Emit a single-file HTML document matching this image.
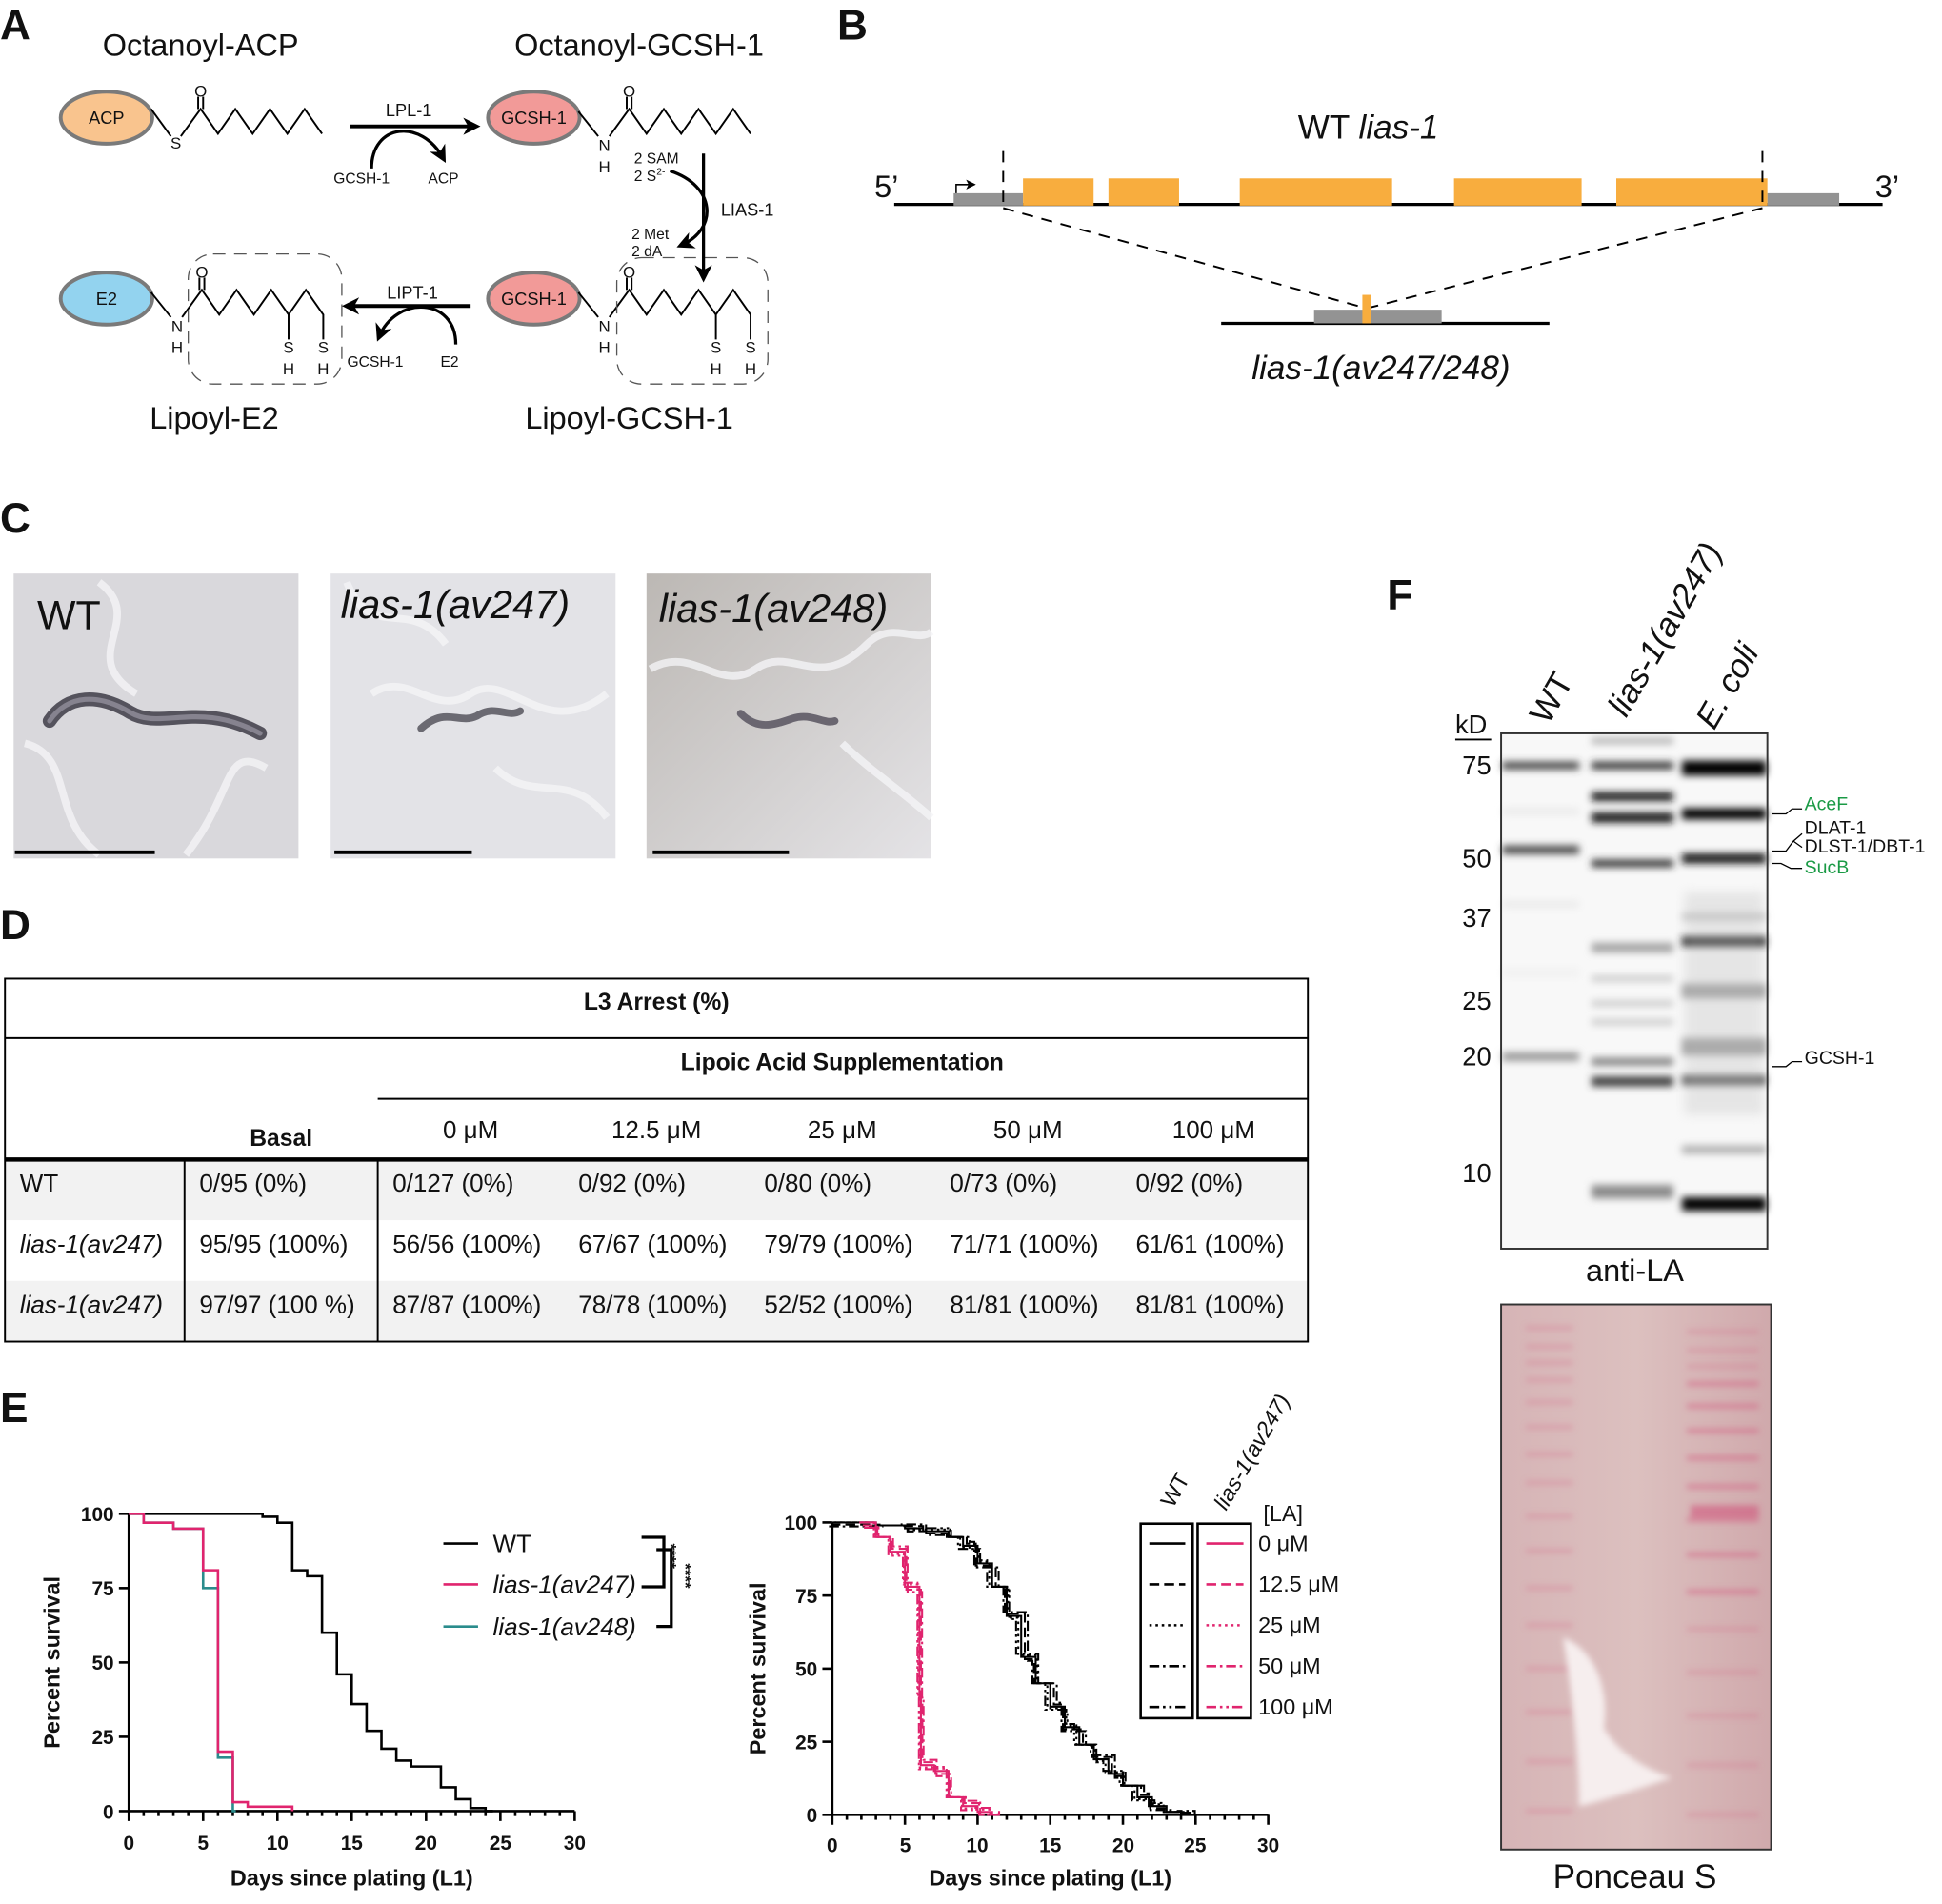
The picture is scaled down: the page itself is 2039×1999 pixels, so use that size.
<!DOCTYPE html>
<html><head><meta charset="utf-8"><style>
html,body{margin:0;padding:0;background:#fff}
svg{display:block}
text{font-family:"Liberation Sans",Arial,sans-serif;fill:#111}
.b{font-weight:bold}
.i{font-style:italic}
</style></head><body>
<svg id="s" width="2039" height="1999" viewBox="0 0 1568 1537" preserveAspectRatio="none" xmlns="http://www.w3.org/2000/svg">
<defs>
<filter id="bl" x="-20%" y="-300%" width="140%" height="700%"><feGaussianBlur stdDeviation="3"/></filter>
<filter id="bl2"><feGaussianBlur stdDeviation="4"/></filter>
<filter id="bl3" x="-20%" y="-20%" width="140%" height="140%"><feGaussianBlur stdDeviation="2.5"/></filter>
<marker id="ah" markerWidth="8" markerHeight="8" refX="6" refY="4" orient="auto" markerUnits="userSpaceOnUse"><path d="M0,0 L8,4 L0,8 L2,4z" fill="#000"/></marker>
<marker id="ah2" markerWidth="14" markerHeight="14" refX="10" refY="7" orient="auto" markerUnits="userSpaceOnUse"><path d="M0,0 L14,7 L0,14 L4,7z" fill="#000"/></marker>
<linearGradient id="pg" x1="0" y1="0" x2="1" y2="0"><stop offset="0" stop-color="#d6b4b6"/><stop offset="0.5" stop-color="#dcc0bf"/><stop offset="1" stop-color="#d0a9ac"/></linearGradient>
<linearGradient id="c3" x1="0" y1="0" x2="1" y2="1"><stop offset="0" stop-color="#bcb8b4"/><stop offset="1" stop-color="#e4e3e6"/></linearGradient>
</defs>

<!-- Panel A -->
<text x="0" y="32" font-size="34" class="b">A</text>
<text x="162" y="45" font-size="25" text-anchor="middle">Octanoyl-ACP</text>
<text x="516" y="45" font-size="25" text-anchor="middle">Octanoyl-GCSH-1</text>
<text x="173" y="346" font-size="25" text-anchor="middle">Lipoyl-E2</text>
<text x="508" y="346" font-size="25" text-anchor="middle">Lipoyl-GCSH-1</text>
<g stroke="#7a7a7a" stroke-width="3">
<ellipse cx="86" cy="95" rx="37" ry="21" fill="#f9c48e"/>
<ellipse cx="431" cy="95" rx="37" ry="21" fill="#f29a98"/>
<ellipse cx="86" cy="241" rx="37" ry="21" fill="#93d3ef"/>
<ellipse cx="431" cy="241" rx="37" ry="21" fill="#f29a98"/>
</g>
<g font-size="14" text-anchor="middle">
<text x="86" y="100">ACP</text><text x="431" y="100">GCSH-1</text>
<text x="86" y="246">E2</text><text x="431" y="246">GCSH-1</text>
</g>
<g fill="none" stroke="#000" stroke-width="1.5">
<polyline points="122,88 138,110"/>
<polyline points="146,110 162,88 176,108 190,88 204,108 218,88 232,108 246,88 260,108"/>
<path d="M160,88 V78 M164,88 V78"/>
<polyline points="467,90 483,110"/>
<polyline points="492,110 508,88 522,108 536,88 550,108 564,88 578,108 592,88 606,108"/>
<path d="M506,88 V78 M510,88 V78"/>
<polyline points="467,236 483,256"/>
<polyline points="492,256 508,234 522,254 536,234 550,254 564,234 578,254 592,234 606,254 606,274"/>
<path d="M506,234 V224 M510,234 V224 M578,254 V274"/>
<polyline points="122,236 138,256"/>
<polyline points="147,256 163,234 177,254 191,234 205,254 219,234 233,254 247,234 261,254 261,274"/>
<path d="M161,234 V224 M165,234 V224 M233,254 V274"/>
<rect x="498" y="208" width="122" height="102" rx="20" stroke-dasharray="10,7" stroke="#555" stroke-width="1"/>
<rect x="152" y="205" width="124" height="105" rx="20" stroke-dasharray="10,7" stroke="#555" stroke-width="1"/>
</g>
<g font-size="13" text-anchor="middle">
<text x="142" y="120">S</text><text x="162" y="78">O</text>
<text x="488" y="122">N</text><text x="488" y="139">H</text><text x="508" y="78">O</text>
<text x="488" y="268">N</text><text x="488" y="285">H</text><text x="508" y="224">O</text>
<text x="578" y="285">S</text><text x="578" y="302">H</text><text x="606" y="285">S</text><text x="606" y="302">H</text>
<text x="143" y="268">N</text><text x="143" y="285">H</text><text x="163" y="224">O</text>
<text x="233" y="285">S</text><text x="233" y="302">H</text><text x="261" y="285">S</text><text x="261" y="302">H</text>
</g>
<g stroke="#000" fill="none">
<line x1="283" y1="102" x2="384" y2="102" stroke-width="3" marker-end="url(#ah2)"/>
<path d="M300,136 C300,100 340,95 358,128" stroke-width="2.5" marker-end="url(#ah2)"/>
<line x1="568" y1="124" x2="568" y2="224" stroke-width="2.5" marker-end="url(#ah2)"/>
<path d="M541,138 C578,150 580,185 550,198" stroke-width="2.5" marker-end="url(#ah2)"/>
<line x1="380" y1="247" x2="280" y2="247" stroke-width="3" marker-end="url(#ah2)"/>
<path d="M368,278 C368,240 320,238 306,272" stroke-width="2.5" marker-end="url(#ah2)"/>
</g>
<g font-size="13">
<text x="330" y="94" text-anchor="middle" font-size="14">LPL-1</text>
<text x="292" y="148" text-anchor="middle" font-size="12">GCSH-1</text>
<text x="358" y="148" text-anchor="middle" font-size="12">ACP</text>
<text x="582" y="174" font-size="14">LIAS-1</text>
<text x="512" y="132" font-size="12">2 SAM</text>
<text x="512" y="146" font-size="12">2 S<tspan font-size="8" dy="-5">2-</tspan></text>
<text x="510" y="193" font-size="12">2 Met</text>
<text x="510" y="207" font-size="12">2 dA</text>
<text x="333" y="241" text-anchor="middle" font-size="14">LIPT-1</text>
<text x="303" y="296" text-anchor="middle" font-size="12">GCSH-1</text>
<text x="363" y="296" text-anchor="middle" font-size="12">E2</text>
</g>

<!-- Panel B -->
<text x="676" y="32" font-size="34" class="b">B</text>
<text x="1048" y="112" font-size="27">WT <tspan class="i">lias-1</tspan></text>
<text x="706" y="159" font-size="25">5’</text>
<text x="1514" y="159" font-size="25">3’</text>
<line x1="722" y1="165" x2="1520" y2="165" stroke="#000" stroke-width="2.5"/>
<rect x="770" y="156" width="56" height="10" fill="#939393"/>
<rect x="1427" y="156" width="58" height="10" fill="#939393"/>
<g fill="#f8ad3e">
<rect x="826" y="144" width="57" height="22"/><rect x="895" y="144" width="57" height="22"/>
<rect x="1001" y="144" width="123" height="22"/><rect x="1174" y="144" width="103" height="22"/>
<rect x="1305" y="144" width="122" height="22"/>
</g>
<path d="M772,156 V149 H786" fill="none" stroke="#000" stroke-width="1.2" marker-end="url(#ah)"/>
<g stroke="#000" stroke-width="1.5" stroke-dasharray="9,7" fill="none">
<line x1="810" y1="122" x2="810" y2="168"/><line x1="1423" y1="122" x2="1423" y2="168"/>
<line x1="810" y1="168" x2="1100" y2="248"/><line x1="1423" y1="168" x2="1107" y2="248"/>
</g>
<line x1="986" y1="261" x2="1251" y2="261" stroke="#000" stroke-width="2.5"/>
<rect x="1061" y="250" width="103" height="11" fill="#939393"/>
<rect x="1100" y="238" width="7" height="23" fill="#f8ad3e"/>
<text x="1115" y="306" font-size="27" class="i" text-anchor="middle">lias-1(av247/248)</text>

<!-- Panel C -->
<text x="0" y="430" font-size="34" class="b">C</text>
<rect x="11" y="463" width="230" height="230" fill="#d9d8dc"/>
<rect x="267" y="463" width="230" height="230" fill="#e3e3e7"/>
<rect x="522" y="463" width="230" height="230" fill="url(#c3)"/>
<g fill="none" stroke="#f4f4f6" stroke-width="6" opacity="0.8">
<path d="M80,470 C120,500 60,530 110,560 M150,690 C190,640 180,600 215,620 M20,600 C60,610 40,660 80,690"/>
<path d="M280,470 C300,520 330,480 360,520 M300,560 C330,540 350,580 380,560 C410,540 440,600 490,560 M400,620 C430,650 460,620 490,660"/>
<path d="M525,540 C560,520 580,560 610,540 C640,520 660,560 700,520 C720,500 740,520 752,510 M680,600 C700,620 730,640 752,660"/>
</g>
<g fill="none" stroke-linecap="round">
<path d="M40,582 C55,560 80,560 105,575 C130,590 160,565 210,592" stroke="#55535d" stroke-width="11"/>
<path d="M40,582 C55,560 80,560 105,575 C130,590 160,565 210,592" stroke="#86838f" stroke-width="4"/>
<path d="M340,588 C360,570 370,585 385,578 C400,568 410,580 420,574" stroke="#6b6a72" stroke-width="6"/>
<path d="M598,576 C612,590 625,585 640,580 C655,575 665,585 674,582" stroke="#6a6670" stroke-width="6"/>
</g>
<text x="30" y="508" font-size="33">WT</text>
<text x="275" y="499" font-size="32" class="i">lias-1(av247)</text>
<text x="532" y="502" font-size="32" class="i">lias-1(av248)</text>
<g stroke="#000" stroke-width="3">
<line x1="12" y1="688" x2="125" y2="688"/><line x1="270" y1="688" x2="381" y2="688"/><line x1="527" y1="688" x2="637" y2="688"/>
</g>

<!-- Panel D -->
<text x="0" y="758" font-size="34" class="b">D</text>
<rect x="4" y="936" width="1052" height="49" fill="#f2f2f2"/>
<rect x="4" y="1034" width="1052" height="49" fill="#f2f2f2"/>
<rect x="4" y="790" width="1052" height="293" fill="none" stroke="#000" stroke-width="1.5"/>
<line x1="4" y1="838" x2="1056" y2="838" stroke="#000" stroke-width="1.5"/>
<line x1="305" y1="887" x2="1056" y2="887" stroke="#000" stroke-width="1.5"/>
<line x1="4" y1="936" x2="1056" y2="936" stroke="#000" stroke-width="3.5"/>
<line x1="149" y1="936" x2="149" y2="1083" stroke="#000" stroke-width="1.5"/>
<line x1="305" y1="936" x2="305" y2="1083" stroke="#000" stroke-width="1.5"/>
<g font-size="19">
<text x="530" y="815" class="b" text-anchor="middle">L3 Arrest (%)</text>
<text x="680" y="864" class="b" text-anchor="middle">Lipoic Acid Supplementation</text>
<text x="227" y="925" class="b" text-anchor="middle">Basal</text>
</g>
<g font-size="20" text-anchor="middle">
<text x="380" y="919">0 μM</text><text x="530" y="919">12.5 μM</text><text x="680" y="919">25 μM</text><text x="830" y="919">50 μM</text><text x="980" y="919">100 μM</text>
</g>
<g font-size="20">
<text x="16" y="962">WT</text><text x="161" y="962">0/95 (0%)</text><text x="317" y="962">0/127 (0%)</text><text x="467" y="962">0/92 (0%)</text><text x="617" y="962">0/80 (0%)</text><text x="767" y="962">0/73 (0%)</text><text x="917" y="962">0/92 (0%)</text>
<text x="16" y="1011" class="i">lias-1(av247)</text><text x="161" y="1011">95/95 (100%)</text><text x="317" y="1011">56/56 (100%)</text><text x="467" y="1011">67/67 (100%)</text><text x="617" y="1011">79/79 (100%)</text><text x="767" y="1011">71/71 (100%)</text><text x="917" y="1011">61/61 (100%)</text>
<text x="16" y="1060" class="i">lias-1(av247)</text><text x="161" y="1060">97/97 (100 %)</text><text x="317" y="1060">87/87 (100%)</text><text x="467" y="1060">78/78 (100%)</text><text x="617" y="1060">52/52 (100%)</text><text x="767" y="1060">81/81 (100%)</text><text x="917" y="1060">81/81 (100%)</text>
</g>

<!-- Panel E -->
<text x="0" y="1148" font-size="34" class="b">E</text>
<g id="axes" stroke="#000" stroke-width="2" fill="none"></g>
<g font-size="16" class="b" text-anchor="end">
<text x="92" y="1228">100</text><text x="92" y="1288">75</text><text x="92" y="1348">50</text><text x="92" y="1408">25</text><text x="92" y="1468">0</text>
<text x="660" y="1235">100</text><text x="660" y="1294">75</text><text x="660" y="1353">50</text><text x="660" y="1412">25</text><text x="660" y="1471">0</text>
</g>
<g font-size="16" class="b" text-anchor="middle">
<text x="104" y="1493">0</text><text x="164" y="1493">5</text><text x="224" y="1493">10</text><text x="284" y="1493">15</text><text x="344" y="1493">20</text><text x="404" y="1493">25</text><text x="464" y="1493">30</text>
<text x="672" y="1495">0</text><text x="731" y="1495">5</text><text x="789" y="1495">10</text><text x="848" y="1495">15</text><text x="907" y="1495">20</text><text x="965" y="1495">25</text><text x="1024" y="1495">30</text>
</g>
<g font-size="18" class="b" text-anchor="middle">
<text x="284" y="1522">Days since plating (L1)</text>
<text x="848" y="1522">Days since plating (L1)</text>
<text transform="translate(48,1342) rotate(-90)">Percent survival</text>
<text transform="translate(618,1347) rotate(-90)">Percent survival</text>
</g>
<g id="curves" fill="none"></g>
<g stroke-width="2">
<line x1="358" y1="1246" x2="386" y2="1246" stroke="#000"/>
<line x1="358" y1="1279" x2="386" y2="1279" stroke="#e0246e"/>
<line x1="358" y1="1313" x2="386" y2="1313" stroke="#2a8c8c"/>
</g>
<g font-size="20"><text x="398" y="1253">WT</text><text x="398" y="1286" class="i">lias-1(av247)</text><text x="398" y="1320" class="i">lias-1(av248)</text></g>
<path d="M518,1241 H536 V1281 H518 M530,1251 H542 V1313 H530" fill="none" stroke="#000" stroke-width="2.5"/>
<text font-size="13" class="b" transform="translate(537,1246) rotate(90)">****</text>
<text font-size="13" class="b" transform="translate(549,1262) rotate(90)">****</text>
<rect x="921" y="1230" width="42" height="157" fill="none" stroke="#000" stroke-width="2"/>
<rect x="967" y="1230" width="43" height="157" fill="none" stroke="#000" stroke-width="2"/>
<g id="leg" stroke-width="2"></g>
<g font-size="18"><text x="1020" y="1228">[LA]</text><text x="1016" y="1252">0 μM</text><text x="1016" y="1285">12.5 μM</text><text x="1016" y="1318">25 μM</text><text x="1016" y="1351">50 μM</text><text x="1016" y="1384">100 μM</text></g>
<text font-size="18" transform="translate(947,1218) rotate(-60)">WT</text>
<text font-size="18" class="i" transform="translate(990,1220) rotate(-60)">lias-1(av247)</text>

<!-- Panel F -->
<text x="1120" y="492" font-size="34" class="b">F</text>
<text font-size="27" transform="translate(1250,586) rotate(-60)">WT</text>
<text font-size="27" class="i" transform="translate(1313,580) rotate(-60)">lias-1(av247)</text>
<text font-size="27" class="i" transform="translate(1384,590) rotate(-60)">E. coli</text>
<text x="1175" y="592" font-size="21">kD</text>
<line x1="1175" y1="597" x2="1204" y2="597" stroke="#000" stroke-width="1.5"/>
<g font-size="21" text-anchor="end">
<text x="1204" y="625">75</text><text x="1204" y="700">50</text><text x="1204" y="748">37</text><text x="1204" y="815">25</text><text x="1204" y="860">20</text><text x="1204" y="954">10</text>
</g>
<rect x="1212" y="592" width="215" height="416" fill="#f8f8f8"/>
<g id="bands"></g>
<rect x="1212" y="592" width="215" height="416" fill="none" stroke="#333" stroke-width="1.5"/>
<g fill="none" stroke="#000" stroke-width="1">
<path d="M1431,657 H1442 L1447,653 H1455"/>
<path d="M1431,687 H1442 L1448,679 L1455,673 M1448,679 L1455,684"/>
<path d="M1431,697 H1438 L1446,701 H1455"/>
<path d="M1431,861 H1442 L1447,857 H1455"/>
</g>
<g font-size="15">
<text x="1457" y="654" style="fill:#1a9a45">AceF</text>
<text x="1457" y="673">DLAT-1</text>
<text x="1457" y="688">DLST-1/DBT-1</text>
<text x="1457" y="705" style="fill:#1a9a45">SucB</text>
<text x="1457" y="859">GCSH-1</text>
</g>
<text x="1320" y="1034" font-size="25" text-anchor="middle">anti-LA</text>
<rect x="1212" y="1053" width="218" height="440" fill="url(#pg)"/>
<g id="pon" filter="url(#bl3)"></g>
<path d="M1262,1322 C1285,1330 1300,1360 1295,1395 C1310,1420 1335,1430 1350,1435 C1320,1445 1290,1455 1275,1458 C1275,1420 1270,1370 1262,1322z" fill="#f6eeee" filter="url(#bl3)"/>
<rect x="1212" y="1053" width="218" height="440" fill="none" stroke="#333" stroke-width="1.5"/>
<text x="1320" y="1524" font-size="27" text-anchor="middle">Ponceau S</text>
</svg>
<script>
var NS="http://www.w3.org/2000/svg";
function el(p,t,a){var e=document.createElementNS(NS,t);for(var k in a)e.setAttribute(k,a[k]);p.appendChild(e);return e;}
var ax=document.getElementById('axes');
el(ax,'path',{d:'M104,1222 V1462 H464'});
for(var d=0;d<=30;d++){var x=104+d*12;el(ax,'line',{x1:x,y1:1462,x2:x,y2:1462+(d%5?4:8)});}
for(var p=0;p<=4;p++){var y=1222+p*60;el(ax,'line',{x1:96,y1:y,x2:104,y2:y});}
el(ax,'path',{d:'M672,1229 V1465 H1024'});
for(var d=0;d<=30;d++){var x=672+d*352/30;el(ax,'line',{x1:x,y1:1465,x2:x,y2:1465+(d%5?4:8)});}
for(var p=0;p<=4;p++){var y=1229+p*59;el(ax,'line',{x1:664,y1:y,x2:672,y2:y});}
function step(pts,fx,fy){var s='M'+fx(pts[0][0])+','+fy(pts[0][1]);for(var i=1;i<pts.length;i++){s+=' H'+fx(pts[i][0])+' V'+fy(pts[i][1]);}return s;}
var cv=document.getElementById('curves');
var Lx=function(d){return 104+d*12},Ly=function(p){return 1462-p*2.4};
var Rx=function(d){return 672+d*352/30},Ry=function(p){return 1465-p*2.36};
el(cv,'path',{d:step([[0,100],[9,99],[10,97],[11,81],[12,79],[13,60],[14,46],[15,36],[16,27],[17,21],[18,17],[19,15],[21,8],[22,4],[23,1],[24,0],[24.5,0]],Lx,Ly),stroke:'#000','stroke-width':2});
el(cv,'path',{d:step([[0,100],[1,97],[3,95],[5,75],[6,18],[7,0],[7.2,0]],Lx,Ly),stroke:'#2a8c8c','stroke-width':2});
el(cv,'path',{d:step([[0,100],[1,97],[3,95],[5,81],[6,20],[7,3],[8,1.5],[11,0],[11,0]],Lx,Ly),stroke:'#e0246e','stroke-width':2});
var dash=['','8,4','2,3','8,3,2,3','8,3,2,3,2,3'];
var base=[[0,100],[3,99],[5,98],[6,97],[8,95],[9,92],[10,86],[11,78],[12,68],[13,54],[14,45],[15,37],[16,30],[17,24],[18,19],[19,14],[20,10],[21,6],[22,3],[23,1],[24,0],[24.5,0]];
var jit=[0,0.25,-0.2,0.45,-0.35];
for(var k=0;k<5;k++){var pts=base.map(function(q,i){return [q[0]+jit[k]*(i%2?1:-0.5),Math.max(0,Math.min(100,q[1]+jit[k]*3*((i%3)-1)))];});
el(cv,'path',{d:step(pts,Rx,Ry),stroke:'#000','stroke-width':1.6,'stroke-dasharray':dash[k]});}
var pb=[[2,100],[3,95],[4,90],[5,78],[6,40],[6.1,17],[7,15],[8,6],[9,3],[10,1],[11,0],[11.3,0]];
for(var k=0;k<5;k++){var pts=pb.map(function(q,i){return [q[0]+jit[k]*0.4,Math.max(0,Math.min(100,q[1]+jit[k]*4*((i%3)-1)))];});
el(cv,'path',{d:step(pts,Rx,Ry),stroke:'#e0246e','stroke-width':1.6,'stroke-dasharray':dash[k]});}
var lg=document.getElementById('leg');
for(var k=0;k<5;k++){var y=1246+k*33;el(lg,'line',{x1:928,y1:y,x2:957,y2:y,stroke:'#000','stroke-dasharray':dash[k]});el(lg,'line',{x1:974,y1:y,x2:1004,y2:y,stroke:'#e0246e','stroke-dasharray':dash[k]});}
var bd=document.getElementById('bands');
var lanes={a:[1244,62],b:[1318,66],c:[1392,68]};
var B=[['a',618,.75,6],['a',655,.08,6],['a',686,.7,7],['a',730,.08,6],['a',785,.05,8],['a',853,.4,7],
['b',598,.3,5],['b',618,.8,6],['b',643,.9,7],['b',660,.9,8],['b',697,.8,6],['b',765,.35,8],['b',790,.2,5],['b',810,.2,5],['b',825,.2,5],['b',857,.5,6],['b',873,.75,8],['b',962,.45,11],
['c',620,1,12],['c',657,1,9],['c',693,.9,8],['c',740,.2,6],['c',760,.85,8],['c',800,.35,12],['c',845,.35,14],['c',872,.65,8],['c',928,.3,7],['c',972,1,11]];
B.forEach(function(b){var L=lanes[b[0]];var g=Math.round(255*(1-b[2]));el(bd,'rect',{x:L[0]-L[1]/2,y:b[1]-b[3]/2,width:L[1],height:b[3],fill:'rgb('+g+','+g+','+g+')',filter:'url(#bl)'});});
el(bd,'rect',{x:1360,y:720,width:64,height:180,fill:'#bbb',opacity:.3,filter:'url(#bl2)'});
var pn=document.getElementById('pon');
var ys=[1070,1085,1098,1112,1130,1150,1172,1195,1222,1250,1280,1310,1345,1380,1420,1460];
ys.forEach(function(y,i){el(pn,'rect',{x:1232,y:y,width:38,height:4,fill:'#d46a88',opacity:0.3});el(pn,'rect',{x:1362,y:y+3,width:58,height:4,fill:'#d45a80',opacity:(y>1100&&y<1300)?0.5:0.25});});
el(pn,'rect',{x:1365,y:1215,width:55,height:10,fill:'#d04070',opacity:.5});
</script>
</body></html>
